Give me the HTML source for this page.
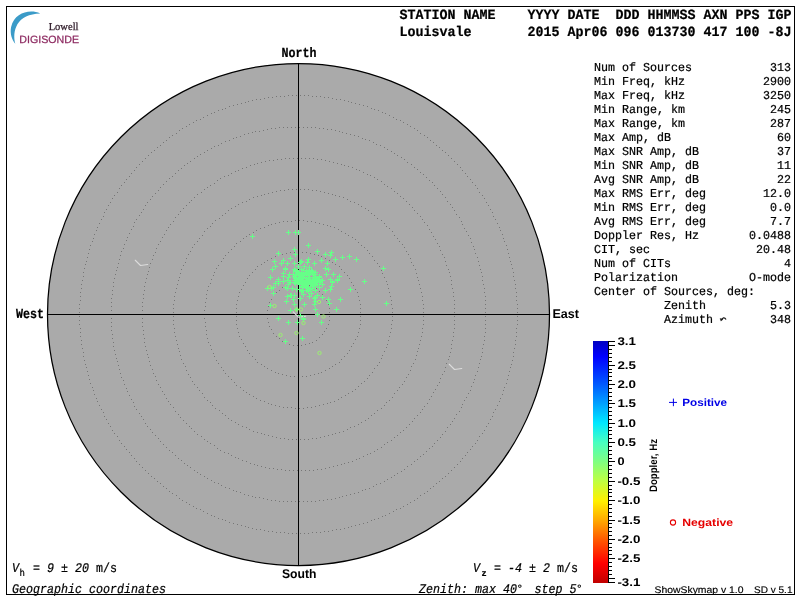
<!DOCTYPE html>
<html><head><meta charset="utf-8"><title>Skymap</title>
<style>
html,body{margin:0;padding:0;background:#fff;}
body{width:800px;height:600px;overflow:hidden;font-family:"Liberation Sans",sans-serif;}
svg{display:block;will-change:transform;}
text{white-space:pre;text-rendering:geometricPrecision;}
.m{font-family:"Liberation Mono",monospace;stroke:#000;stroke-width:0.22px;}
.s{font-family:"Liberation Sans",sans-serif;}
.r{font-family:"Liberation Serif",serif;}
</style></head><body>
<svg width="800" height="600" viewBox="0 0 800 600">
<rect x="0" y="0" width="800" height="600" fill="#ffffff"/>
<circle cx="298.5" cy="314.5" r="251" fill="#aaaaaa" stroke="#000" stroke-width="1.25"/>
<path d="M329,312.5h1m-1,-4h1m-2,-4h1m-3,-4h1m-3,-3h1m-3,-3h1m-4,-3h1m-4,-3h1m-5,-2h1m-4,-1h1m-5,-1h1m-5,-1h1m-5,0h1m-5,0h1m-5,1h1m-5,1h1m-4,2h1m-4,3h1m-4,2h1m-4,3h1m-3,4h1m-3,3h1m-2,4h1m-2,4h1m-1,4h1m-1,4h1m0,4h1m0,4h1m1,3h1m1,4h1m2,3h1m2,2h1m2,3h1m2,2h1m3,1h1m3,1h1m3,0h1m3,0h1m3,-1h1m3,-1h1m2,-1h1m3,-2h1m2,-3h1m2,-3h1m1,-3h1m1,-3h1m1,-4h1m0,-4h1m-1,-4h1m30,-4h1m-1,-4h1m-1,-4h1m-2,-4h1m-2,-4h1m-2,-4h1m-3,-3h1m-3,-4h1m-3,-3h1m-3,-4h1m-3,-3h1m-4,-3h1m-4,-3h1m-3,-3h1m-5,-2h1m-4,-2h1m-4,-2h1m-5,-2h1m-5,-2h1m-4,-1h1m-5,-1h1m-5,-1h1m-5,-1h1m-5,0h1m-5,0h1m-5,0h1m-5,0h1m-5,1h1m-5,1h1m-5,1h1m-4,1h1m-5,2h1m-5,2h1m-4,2h1m-4,2h1m-5,2h1m-3,3h1m-4,3h1m-4,3h1m-3,3h1m-3,4h1m-3,3h1m-3,4h1m-3,3h1m-2,4h1m-2,4h1m-2,4h1m-1,4h1m-1,4h1m-1,4h1m-1,4h1m-1,4h1m0,4h1m0,4h1m0,4h1m1,3h1m1,4h1m1,3h1m1,4h1m1,3h1m2,3h1m2,3h1m1,3h1m3,2h1m2,2h1m2,2h1m3,2h1m3,2h1m2,1h1m3,1h1m3,1h1m3,1h1m3,0h1m3,1h1m3,-1h1m3,0h1m3,-1h1m3,-1h1m3,-1h1m2,-1h1m3,-2h1m3,-2h1m2,-2h1m2,-2h1m3,-2h1m1,-3h1m2,-3h1m2,-3h1m1,-3h1m1,-4h1m1,-3h1m1,-4h1m1,-3h1m0,-4h1m0,-4h1m0,-4h1m-1,-4h1m-1,-4h1m31,-4h1m-1,-4h1m-2,-4h1m-1,-4h1m-2,-4h1m-2,-4h1m-2,-4h1m-2,-4h1m-2,-3h1m-3,-4h1m-3,-4h1m-2,-3h1m-3,-4h1m-3,-3h1m-4,-3h1m-3,-4h1m-4,-3h1m-3,-3h1m-4,-3h1m-4,-2h1m-4,-3h1m-4,-3h1m-4,-2h1m-5,-2h1m-4,-2h1m-5,-2h1m-4,-2h1m-5,-2h1m-5,-1h1m-4,-1h1m-5,-1h1m-5,-1h1m-5,-1h1m-5,-1h1m-5,0h1m-5,-1h1m-5,0h1m-5,0h1m-5,1h1m-5,0h1m-5,0h1m-5,1h1m-5,1h1m-5,1h1m-4,1h1m-5,2h1m-5,1h1m-5,2h1m-4,2h1m-5,2h1m-4,2h1m-4,2h1m-4,3h1m-5,2h1m-3,3h1m-4,3h1m-4,3h1m-4,3h1m-3,3h1m-3,3h1m-4,4h1m-3,3h1m-3,4h1m-2,3h1m-3,4h1m-2,4h1m-3,3h1m-2,4h1m-2,4h1m-1,4h1m-2,4h1m-1,4h1m-2,4h1m-1,4h1m-1,4h1m0,4h1m-1,4h1m0,4h1m-1,4h1m0,4h1m0,4h1m1,3h1m0,4h1m1,4h1m0,3h1m1,4h1m1,3h1m2,4h1m1,3h1m1,3h1m2,3h1m2,3h1m2,3h1m1,3h1m3,2h1m2,3h1m2,2h1m2,2h1m3,2h1m2,2h1m3,2h1m3,1h1m3,2h1m2,1h1m3,1h1m3,1h1m3,1h1m3,0h1m3,0h1m3,1h1m3,0h1m3,0h1m3,-1h1m3,0h1m3,-1h1m3,-1h1m3,-1h1m3,-1h1m2,-1h1m3,-1h1m3,-2h1m2,-2h1m3,-2h1m2,-2h1m3,-2h1m2,-2h1m2,-3h1m2,-3h1m2,-2h1m2,-3h1m1,-3h1m2,-3h1m1,-4h1m2,-3h1m1,-3h1m1,-4h1m0,-3h1m1,-4h1m1,-4h1m0,-3h1m0,-4h1m0,-4h1m0,-4h1m0,-4h1m-1,-4h1m0,-4h1m-1,-4h1m30,-4h1m-1,-4h1m-1,-4h1m-2,-4h1m-1,-4h1m-2,-4h1m-2,-4h1m-2,-4h1m-2,-4h1m-2,-3h1m-2,-4h1m-2,-4h1m-3,-4h1m-3,-3h1m-2,-4h1m-3,-4h1m-3,-3h1m-3,-4h1m-3,-3h1m-4,-3h1m-3,-3h1m-4,-3h1m-3,-4h1m-4,-3h1m-4,-2h1m-3,-3h1m-4,-3h1m-5,-2h1m-4,-3h1m-4,-2h1m-4,-3h1m-4,-2h1m-5,-2h1m-4,-2h1m-5,-2h1m-5,-1h1m-4,-2h1m-5,-2h1m-5,-1h1m-5,-1h1m-4,-1h1m-5,-1h1m-5,-1h1m-5,-1h1m-5,-1h1m-5,0h1m-5,-1h1m-5,0h1m-5,0h1m-5,0h1m-5,0h1m-5,0h1m-5,1h1m-5,0h1m-5,1h1m-5,1h1m-5,1h1m-5,1h1m-4,1h1m-5,1h1m-5,1h1m-5,2h1m-4,2h1m-5,1h1m-5,2h1m-4,2h1m-5,2h1m-4,2h1m-4,3h1m-4,2h1m-4,3h1m-5,2h1m-4,3h1m-3,3h1m-4,2h1m-4,3h1m-3,4h1m-4,3h1m-3,3h1m-4,3h1m-3,3h1m-3,4h1m-3,3h1m-3,4h1m-2,4h1m-3,3h1m-3,4h1m-2,4h1m-2,4h1m-2,3h1m-2,4h1m-2,4h1m-2,4h1m-2,4h1m-1,4h1m-2,4h1m-1,4h1m-1,4h1m-1,4h1m-1,4h1m-1,4h1m0,4h1m-1,4h1m0,4h1m0,4h1m0,4h1m0,4h1m0,3h1m0,4h1m0,4h1m1,4h1m1,3h1m0,4h1m1,4h1m1,3h1m1,4h1m1,3h1m2,3h1m1,3h1m2,3h1m1,4h1m2,3h1m2,2h1m1,3h1m2,3h1m3,2h1m2,3h1m2,2h1m2,3h1m2,2h1m3,2h1m2,2h1m3,2h1m3,1h1m2,2h1m3,2h1m3,1h1m3,1h1m2,1h1m3,1h1m3,1h1m3,1h1m3,1h1m3,0h1m3,1h1m3,0h1m3,0h1m3,0h1m3,0h1m3,0h1m3,-1h1m3,0h1m3,-1h1m3,-1h1m3,-1h1m3,-1h1m2,-1h1m3,-1h1m3,-1h1m3,-2h1m2,-2h1m3,-1h1m3,-2h1m2,-2h1m3,-2h1m2,-2h1m2,-3h1m2,-2h1m2,-3h1m3,-2h1m2,-3h1m1,-3h1m2,-2h1m2,-3h1m1,-4h1m2,-3h1m1,-3h1m2,-3h1m1,-3h1m1,-4h1m1,-3h1m1,-4h1m0,-4h1m1,-3h1m1,-4h1m0,-4h1m0,-4h1m0,-3h1m0,-4h1m0,-4h1m0,-4h1m0,-4h1m-1,-4h1m0,-4h1m-1,-4h1m-1,-4h1m30,-4h1m-1,-4h1m-1,-4h1m-1,-4h1m-2,-4h1m-1,-4h1m-2,-4h1m-2,-4h1m-1,-4h1m-2,-4h1m-2,-4h1m-2,-3h1m-3,-4h1m-2,-4h1m-2,-4h1m-3,-3h1m-3,-4h1m-2,-4h1m-3,-3h1m-3,-4h1m-3,-3h1m-3,-4h1m-3,-3h1m-3,-4h1m-4,-3h1m-3,-3h1m-3,-3h1m-4,-3h1m-4,-3h1m-3,-3h1m-4,-3h1m-4,-3h1m-4,-3h1m-4,-2h1m-4,-3h1m-4,-2h1m-4,-3h1m-5,-2h1m-4,-2h1m-4,-3h1m-5,-2h1m-4,-2h1m-5,-2h1m-4,-1h1m-5,-2h1m-5,-2h1m-4,-1h1m-5,-2h1m-5,-1h1m-5,-1h1m-4,-1h1m-5,-1h1m-5,-1h1m-5,-1h1m-5,-1h1m-5,-1h1m-5,0h1m-5,-1h1m-5,0h1m-5,0h1m-5,0h1m-5,0h1m-5,0h1m-5,0h1m-5,0h1m-5,1h1m-5,0h1m-5,1h1m-5,0h1m-5,1h1m-5,1h1m-5,1h1m-4,1h1m-5,1h1m-5,2h1m-5,1h1m-5,2h1m-4,1h1m-5,2h1m-4,2h1m-5,1h1m-5,2h1m-4,2h1m-4,3h1m-5,2h1m-4,2h1m-4,2h1m-4,3h1m-5,2h1m-4,3h1m-4,3h1m-3,2h1m-4,3h1m-4,3h1m-4,3h1m-3,3h1m-4,3h1m-3,4h1m-4,3h1m-3,3h1m-3,3h1m-3,4h1m-3,3h1m-3,4h1m-3,3h1m-3,4h1m-2,4h1m-3,3h1m-2,4h1m-3,4h1m-2,4h1m-2,4h1m-2,3h1m-2,4h1m-2,4h1m-2,4h1m-1,4h1m-2,4h1m-1,4h1m-2,4h1m-1,4h1m-1,4h1m-1,4h1m-1,4h1m-1,4h1m-1,4h1m0,4h1m-1,4h1m0,4h1m-1,4h1m0,4h1m0,4h1m0,4h1m0,3h1m0,4h1m0,4h1m1,4h1m0,4h1m1,3h1m0,4h1m1,4h1m1,3h1m1,4h1m1,3h1m1,4h1m1,3h1m1,3h1m2,3h1m1,4h1m2,3h1m1,3h1m2,3h1m2,3h1m2,3h1m1,2h1m2,3h1m2,3h1m3,2h1m2,3h1m2,2h1m2,2h1m3,2h1m2,3h1m2,2h1m3,2h1m3,1h1m2,2h1m3,2h1m2,1h1m3,2h1m3,1h1m3,2h1m3,1h1m2,1h1m3,1h1m3,1h1m3,1h1m3,0h1m3,1h1m3,0h1m3,1h1m3,0h1m3,0h1m3,0h1m3,0h1m3,0h1m3,0h1m3,0h1m3,-1h1m3,0h1m3,-1h1m3,-1h1m3,-1h1m3,-1h1m3,-1h1m2,-1h1m3,-1h1m3,-1h1m3,-2h1m2,-1h1m3,-2h1m3,-2h1m2,-1h1m3,-2h1m2,-2h1m3,-2h1m2,-3h1m2,-2h1m3,-2h1m2,-3h1m2,-2h1m2,-3h1m2,-2h1m2,-3h1m2,-3h1m2,-3h1m1,-3h1m2,-3h1m2,-3h1m1,-3h1m1,-3h1m2,-3h1m1,-4h1m1,-3h1m1,-4h1m1,-3h1m1,-4h1m1,-3h1m0,-4h1m1,-4h1m1,-3h1m0,-4h1m0,-4h1m1,-4h1m0,-3h1m0,-4h1m0,-4h1m-1,-4h1m0,-4h1m0,-4h1m-1,-4h1m0,-4h1m-1,-4h1m-1,-4h1m-1,-4h1m30,-4h1m-1,-4h1m-1,-4h1m-1,-4h1m-1,-4h1m-2,-4h1m-1,-4h1m-2,-4h1m-2,-4h1m-1,-4h1m-2,-4h1m-2,-3h1m-2,-4h1m-2,-4h1m-2,-4h1m-3,-4h1m-2,-4h1m-2,-3h1m-3,-4h1m-2,-4h1m-3,-3h1m-3,-4h1m-3,-3h1m-3,-4h1m-2,-3h1m-3,-4h1m-4,-3h1m-3,-4h1m-3,-3h1m-3,-3h1m-4,-3h1m-3,-4h1m-4,-3h1m-3,-3h1m-4,-3h1m-4,-3h1m-3,-3h1m-4,-2h1m-4,-3h1m-4,-3h1m-4,-2h1m-4,-3h1m-4,-2h1m-4,-3h1m-5,-2h1m-4,-3h1m-4,-2h1m-5,-2h1m-4,-2h1m-4,-2h1m-5,-2h1m-4,-2h1m-5,-2h1m-5,-1h1m-4,-2h1m-5,-2h1m-5,-1h1m-4,-1h1m-5,-2h1m-5,-1h1m-5,-1h1m-5,-1h1m-5,-1h1m-4,-1h1m-5,-1h1m-5,-1h1m-5,0h1m-5,-1h1m-5,0h1m-5,-1h1m-5,0h1m-5,0h1m-5,0h1m-5,0h1m-5,0h1m-5,0h1m-5,0h1m-5,0h1m-5,0h1m-5,1h1m-5,0h1m-5,1h1m-5,1h1m-5,1h1m-5,0h1m-4,1h1m-5,1h1m-5,1h1m-5,2h1m-5,1h1m-4,1h1m-5,2h1m-5,1h1m-5,2h1m-4,2h1m-5,1h1m-4,2h1m-5,2h1m-4,2h1m-5,2h1m-4,2h1m-4,2h1m-5,3h1m-4,2h1m-4,2h1m-4,3h1m-4,2h1m-4,3h1m-4,3h1m-4,2h1m-4,3h1m-4,3h1m-4,3h1m-3,3h1m-4,3h1m-4,3h1m-3,3h1m-4,3h1m-3,3h1m-3,4h1m-3,3h1m-3,3h1m-4,4h1m-3,3h1m-2,4h1m-3,3h1m-3,4h1m-3,4h1m-2,3h1m-3,4h1m-2,4h1m-3,3h1m-2,4h1m-2,4h1m-2,4h1m-2,4h1m-2,3h1m-2,4h1m-2,4h1m-2,4h1m-1,4h1m-2,4h1m-1,4h1m-2,4h1m-1,4h1m-1,4h1m-1,4h1m-1,4h1m-1,4h1m-1,4h1m-1,4h1m-1,4h1m0,4h1m-1,4h1m0,4h1m-1,4h1m0,4h1m0,4h1m0,4h1m0,3h1m0,4h1m0,4h1m0,4h1m0,4h1m1,3h1m0,4h1m1,4h1m0,3h1m1,4h1m1,4h1m1,3h1m0,4h1m1,3h1m2,4h1m1,3h1m1,3h1m1,4h1m1,3h1m2,3h1m1,3h1m2,3h1m2,3h1m1,3h1m2,3h1m2,3h1m2,3h1m2,2h1m2,3h1m2,3h1m2,2h1m2,3h1m2,2h1m2,2h1m3,3h1m2,2h1m2,2h1m3,2h1m2,2h1m3,2h1m2,2h1m3,1h1m2,2h1m3,2h1m3,1h1m3,2h1m2,1h1m3,1h1m3,2h1m3,1h1m3,1h1m2,1h1m3,0h1m3,1h1m3,1h1m3,1h1m3,0h1m3,1h1m3,0h1m3,0h1m3,0h1m3,0h1m3,0h1m3,0h1m3,0h1m3,0h1m3,0h1m3,-1h1m3,0h1m3,-1h1m3,0h1m3,-1h1m3,-1h1m2,-1h1m3,-1h1m3,-1h1m3,-1h1m3,-1h1m3,-2h1m2,-1h1m3,-1h1m3,-2h1m2,-2h1m3,-1h1m3,-2h1m2,-2h1m3,-2h1m2,-2h1m2,-2h1m3,-2h1m2,-2h1m2,-3h1m3,-2h1m2,-3h1m2,-2h1m2,-3h1m2,-2h1m2,-3h1m2,-3h1m2,-2h1m1,-3h1m2,-3h1m2,-3h1m1,-3h1m2,-3h1m1,-4h1m2,-3h1m1,-3h1m1,-3h1m1,-4h1m2,-3h1m1,-4h1m0,-3h1m1,-4h1m1,-3h1m1,-4h1m1,-3h1m0,-4h1m1,-4h1m0,-3h1m0,-4h1m1,-4h1m0,-4h1m0,-4h1m0,-4h1m0,-3h1m0,-4h1m-1,-4h1m0,-4h1m0,-4h1m-1,-4h1m0,-4h1m-1,-4h1m-1,-4h1m-1,-4h1m-1,-4h1m31,-4h1m-1,-4h1m-1,-4h1m-2,-4h1m-1,-4h1m-1,-4h1m-2,-4h1m-1,-4h1m-2,-4h1m-2,-4h1m-1,-4h1m-2,-4h1m-2,-4h1m-2,-3h1m-2,-4h1m-2,-4h1m-2,-4h1m-2,-4h1m-3,-4h1m-2,-3h1m-2,-4h1m-3,-4h1m-2,-3h1m-3,-4h1m-3,-4h1m-3,-3h1m-2,-4h1m-3,-3h1m-3,-4h1m-3,-3h1m-3,-4h1m-3,-3h1m-4,-3h1m-3,-4h1m-3,-3h1m-4,-3h1m-3,-3h1m-4,-3h1m-3,-3h1m-4,-3h1m-3,-3h1m-4,-3h1m-4,-3h1m-4,-3h1m-4,-3h1m-4,-3h1m-4,-2h1m-4,-3h1m-4,-2h1m-4,-3h1m-4,-2h1m-4,-3h1m-4,-2h1m-5,-2h1m-4,-3h1m-4,-2h1m-5,-2h1m-4,-2h1m-5,-2h1m-4,-2h1m-5,-1h1m-4,-2h1m-5,-2h1m-5,-2h1m-4,-1h1m-5,-2h1m-5,-1h1m-4,-1h1m-5,-2h1m-5,-1h1m-5,-1h1m-5,-1h1m-5,-1h1m-4,-1h1m-5,-1h1m-5,-1h1m-5,0h1m-5,-1h1m-5,-1h1m-5,0h1m-5,-1h1m-5,0h1m-5,0h1m-5,-1h1m-5,0h1m-5,0h1m-5,0h1m-5,0h1m-5,0h1m-5,1h1m-5,0h1m-5,0h1m-5,1h1m-5,0h1m-5,1h1m-5,1h1m-5,0h1m-5,1h1m-5,1h1m-4,1h1m-5,1h1m-5,1h1m-5,1h1m-5,1h1m-5,2h1m-4,1h1m-5,1h1m-5,2h1m-4,1h1m-5,2h1m-5,2h1m-4,2h1m-5,1h1m-4,2h1m-5,2h1m-4,2h1m-5,2h1m-4,2h1m-4,3h1m-5,2h1m-4,2h1m-4,3h1m-4,2h1m-4,3h1m-4,2h1m-4,3h1m-4,2h1m-4,3h1m-4,3h1m-4,3h1m-4,3h1m-4,3h1m-3,3h1m-4,3h1m-3,3h1m-4,3h1m-3,3h1m-4,3h1m-3,3h1m-3,4h1m-4,3h1m-3,3h1m-3,4h1m-3,3h1m-3,4h1m-3,3h1m-2,4h1m-3,3h1m-3,4h1m-3,4h1m-2,3h1m-3,4h1m-2,4h1m-2,3h1m-3,4h1m-2,4h1m-2,4h1m-2,4h1m-2,4h1m-2,3h1m-2,4h1m-2,4h1m-1,4h1m-2,4h1m-2,4h1m-1,4h1m-2,4h1m-1,4h1m-1,4h1m-2,4h1m-1,4h1m-1,4h1m-1,4h1m-1,4h1m-1,4h1m0,4h1m-1,4h1m-1,4h1m0,4h1m-1,4h1m0,4h1m0,4h1m-1,4h1m0,4h1m0,4h1m0,3h1m0,4h1m0,4h1m0,4h1m0,4h1m1,4h1m0,3h1m0,4h1m1,4h1m0,3h1m1,4h1m1,4h1m1,3h1m0,4h1m1,3h1m1,4h1m1,3h1m1,4h1m1,3h1m2,3h1m1,4h1m1,3h1m2,3h1m1,3h1m2,3h1m1,3h1m2,3h1m1,3h1m2,3h1m2,3h1m2,3h1m2,3h1m2,3h1m2,2h1m2,3h1m2,2h1m2,3h1m2,2h1m2,3h1m2,2h1m3,2h1m2,3h1m2,2h1m3,2h1m2,2h1m3,2h1m2,2h1m3,1h1m2,2h1m3,2h1m3,2h1m2,1h1m3,2h1m3,1h1m2,1h1m3,2h1m3,1h1m3,1h1m3,1h1m3,1h1m2,1h1m3,1h1m3,1h1m3,0h1m3,1h1m3,1h1m3,0h1m3,1h1m3,0h1m3,0h1m3,1h1m3,0h1m3,0h1m3,0h1m3,0h1m3,0h1m3,-1h1m3,0h1m3,0h1m3,-1h1m3,0h1m3,-1h1m3,-1h1m3,0h1m3,-1h1m3,-1h1m2,-1h1m3,-1h1m3,-1h1m3,-1h1m3,-1h1m3,-2h1m2,-1h1m3,-1h1m3,-2h1m2,-1h1m3,-2h1m3,-2h1m2,-2h1m3,-1h1m2,-2h1m3,-2h1m2,-2h1m3,-2h1m2,-2h1m2,-3h1m3,-2h1m2,-2h1m2,-3h1m2,-2h1m2,-3h1m2,-2h1m2,-3h1m2,-2h1m2,-3h1m2,-3h1m2,-3h1m2,-3h1m2,-3h1m1,-3h1m2,-3h1m1,-3h1m2,-3h1m1,-3h1m2,-3h1m1,-3h1m1,-4h1m2,-3h1m1,-3h1m1,-4h1m1,-3h1m1,-4h1m1,-3h1m0,-4h1m1,-3h1m1,-4h1m1,-4h1m0,-3h1m1,-4h1m0,-4h1m0,-3h1m1,-4h1m0,-4h1m0,-4h1m0,-4h1m0,-4h1m0,-3h1m0,-4h1m0,-4h1m-1,-4h1m0,-4h1m0,-4h1m-1,-4h1m0,-4h1m-1,-4h1m-1,-4h1m0,-4h1m-1,-4h1m-1,-4h1" stroke="#767676" stroke-width="1" fill="none" shape-rendering="crispEdges"/>
<g shape-rendering="crispEdges" stroke="#000" stroke-width="1">
<line x1="298.5" y1="63" x2="298.5" y2="566"/>
<line x1="47" y1="314.5" x2="550" y2="314.5"/>
</g>
<polyline points="135.25,260.25 140.50,265.50 147.75,264.50" fill="none" stroke="#dcdcdc" stroke-width="1.1" stroke-linecap="round" stroke-linejoin="round"/>
<polyline points="449.25,364.25 454.50,369.50 461.75,368.50" fill="none" stroke="#dcdcdc" stroke-width="1.1" stroke-linecap="round" stroke-linejoin="round"/>
<polyline points="293.15,311.95 298.40,317.20 305.65,316.20" fill="none" stroke="#dcdcdc" stroke-width="1.1" stroke-linecap="round" stroke-linejoin="round"/>
<path d="M250,236.5h5M252.5,234v5M286,232.5h5M288.5,230v5M293,232.5h5M295.5,230v5M296,232.5h5M298.5,230v5M306,245.5h5M308.5,243v5M292,249.5h5M294.5,247v5M276,253.5h5M278.5,251v5M293,254.5h5M295.5,252v5M315,251.5h5M317.5,249v5M288,258.5h5M290.5,256v5M272,261.5h5M274.5,259v5M281,260.5h5M283.5,258v5M279,263.5h5M281.5,261v5M285,263.5h5M287.5,261v5M292,263.5h5M294.5,261v5M298,262.5h5M300.5,260v5M306,259.5h5M308.5,257v5M305,262.5h5M307.5,260v5M312,263.5h5M314.5,261v5M273,266.5h5M275.5,264v5M270,269.5h5M272.5,267v5M283,268.5h5M285.5,266v5M302,266.5h5M304.5,264v5M268,277.5h5M270.5,275v5M276,279.5h5M278.5,277v5M292,269.5h5M294.5,267v5M296,266.5h5M298.5,264v5M299,261.5h5M301.5,259v5M304,270.5h5M306.5,268v5M281,273.5h5M283.5,271v5M281,276.5h5M283.5,274v5M287,274.5h5M289.5,272v5M273,283.5h5M275.5,281v5M281,281.5h5M283.5,279v5M286,277.5h5M288.5,275v5M288,282.5h5M290.5,280v5M293,277.5h5M295.5,275v5M294,281.5h5M296.5,279v5M329,252.5h5M331.5,250v5M323,254.5h5M325.5,252v5M328,255.5h5M330.5,253v5M333,259.5h5M335.5,257v5M340,257.5h5M342.5,255v5M347,256.5h5M349.5,254v5M354,259.5h5M356.5,257v5M381,268.5h5M383.5,266v5M319,260.5h5M321.5,258v5M325,263.5h5M327.5,261v5M323,268.5h5M325.5,266v5M326,269.5h5M328.5,267v5M324,274.5h5M326.5,272v5M331,274.5h5M333.5,272v5M337,276.5h5M339.5,274v5M335,279.5h5M337.5,277v5M328,279.5h5M330.5,277v5M330,282.5h5M332.5,280v5M362,281.5h5M364.5,279v5M265,288.5h5M267.5,286v5M271,293.5h5M273.5,291v5M268,305.5h5M270.5,303v5M276,318.5h5M278.5,316v5M286,322.5h5M288.5,320v5M295,322.5h5M297.5,320v5M301,318.5h5M303.5,316v5M298,315.5h5M300.5,313v5M288,310.5h5M290.5,308v5M284,301.5h5M286.5,299v5M292,304.5h5M294.5,302v5M302,304.5h5M304.5,302v5M285,296.5h5M287.5,294v5M289,295.5h5M291.5,293v5M292,295.5h5M294.5,293v5M291,299.5h5M293.5,297v5M298,298.5h5M300.5,296v5M301,294.5h5M303.5,292v5M307,296.5h5M309.5,294v5M309,293.5h5M311.5,291v5M312,298.5h5M314.5,296v5M315,295.5h5M317.5,293v5M313,309.5h5M315.5,307v5M312,304.5h5M314.5,302v5M315,314.5h5M317.5,312v5M300,338.5h5M302.5,336v5M276,283.5h5M278.5,281v5M276,281.5h5M278.5,279v5M271,287.5h5M273.5,285v5M283,287.5h5M285.5,285v5M286,284.5h5M288.5,282v5M269,288.5h5M271.5,286v5M285,288.5h5M287.5,286v5M290,288.5h5M292.5,286v5M288,295.5h5M290.5,293v5M285,280.5h5M287.5,278v5M287,282.5h5M289.5,280v5M283,269.5h5M285.5,267v5M348,289.5h5M350.5,287v5M384,303.5h5M386.5,301v5M338,299.5h5M340.5,297v5M334,309.5h5M336.5,307v5M326,299.5h5M328.5,297v5M327,303.5h5M329.5,301v5M320,297.5h5M322.5,295v5M323,290.5h5M325.5,288v5M328,289.5h5M330.5,287v5M329,286.5h5M331.5,284v5M330,281.5h5M332.5,279v5M319,322.5h5M321.5,320v5M335,280.5h5M337.5,278v5M283,341.5h5M285.5,339v5M301,319.5h5M303.5,317v5M313,301.5h5M315.5,299v5M313,297.5h5M315.5,295v5M323,290.5h5M325.5,288v5M294,309.5h5M296.5,307v5M293,270.5h5M295.5,268v5M293,278.5h5M295.5,276v5M292,280.5h5M294.5,278v5M300,276.5h5M302.5,274v5M310,282.5h5M312.5,280v5M311,279.5h5M313.5,277v5M307,280.5h5M309.5,278v5M302,282.5h5M304.5,280v5M299,280.5h5M301.5,278v5M308,281.5h5M310.5,279v5M305,279.5h5M307.5,277v5M306,279.5h5M308.5,277v5M303,280.5h5M305.5,278v5M314,281.5h5M316.5,279v5M306,284.5h5M308.5,282v5M314,280.5h5M316.5,278v5M298,279.5h5M300.5,277v5M308,279.5h5M310.5,277v5M303,283.5h5M305.5,281v5M306,282.5h5M308.5,280v5M303,286.5h5M305.5,284v5M312,281.5h5M314.5,279v5M303,284.5h5M305.5,282v5M307,277.5h5M309.5,275v5M303,285.5h5M305.5,283v5M305,280.5h5M307.5,278v5M306,281.5h5M308.5,279v5M305,273.5h5M307.5,271v5M313,282.5h5M315.5,280v5M301,285.5h5M303.5,283v5M306,281.5h5M308.5,279v5M308,288.5h5M310.5,286v5M303,284.5h5M305.5,282v5M297,280.5h5M299.5,278v5M311,285.5h5M313.5,283v5M308,273.5h5M310.5,271v5M309,283.5h5M311.5,281v5M301,280.5h5M303.5,278v5M304,283.5h5M306.5,281v5M307,282.5h5M309.5,280v5M306,282.5h5M308.5,280v5M311,281.5h5M313.5,279v5M302,283.5h5M304.5,281v5M298,277.5h5M300.5,275v5M300,282.5h5M302.5,280v5M310,282.5h5M312.5,280v5M306,279.5h5M308.5,277v5M299,276.5h5M301.5,274v5M309,284.5h5M311.5,282v5M310,288.5h5M312.5,286v5M304,285.5h5M306.5,283v5M314,281.5h5M316.5,279v5M310,280.5h5M312.5,278v5M298,282.5h5M300.5,280v5M301,281.5h5M303.5,279v5M303,282.5h5M305.5,280v5M311,280.5h5M313.5,278v5M301,281.5h5M303.5,279v5M308,283.5h5M310.5,281v5M307,273.5h5M309.5,271v5M300,287.5h5M302.5,285v5M306,275.5h5M308.5,273v5M301,275.5h5M303.5,273v5M300,286.5h5M302.5,284v5M304,286.5h5M306.5,284v5M306,275.5h5M308.5,273v5M301,277.5h5M303.5,275v5M311,281.5h5M313.5,279v5M305,287.5h5M307.5,285v5M297,283.5h5M299.5,281v5M300,275.5h5M302.5,273v5M301,286.5h5M303.5,284v5M304,273.5h5M306.5,271v5M294,289.5h5M296.5,287v5M313,272.5h5M315.5,270v5M293,278.5h5M295.5,276v5M313,290.5h5M315.5,288v5M313,276.5h5M315.5,274v5M299,269.5h5M301.5,267v5M306,271.5h5M308.5,269v5M299,273.5h5M301.5,271v5M293,271.5h5M295.5,269v5M295,271.5h5M297.5,269v5M292,282.5h5M294.5,280v5M307,289.5h5M309.5,287v5M295,280.5h5M297.5,278v5M295,273.5h5M297.5,271v5M313,279.5h5M315.5,277v5M317,287.5h5M319.5,285v5M296,277.5h5M298.5,275v5M308,273.5h5M310.5,271v5M309,270.5h5M311.5,268v5M294,274.5h5M296.5,272v5M298,275.5h5M300.5,273v5M313,284.5h5M315.5,282v5M297,284.5h5M299.5,282v5M313,278.5h5M315.5,276v5M298,276.5h5M300.5,274v5M314,278.5h5M316.5,276v5M314,278.5h5M316.5,276v5M313,285.5h5M315.5,283v5M297,281.5h5M299.5,279v5M307,267.5h5M309.5,265v5M315,280.5h5M317.5,278v5M296,274.5h5M298.5,272v5M296,272.5h5M298.5,270v5M304,274.5h5M306.5,272v5M296,278.5h5M298.5,276v5M296,280.5h5M298.5,278v5M304,270.5h5M306.5,268v5M313,274.5h5M315.5,272v5M320,280.5h5M322.5,278v5M293,283.5h5M295.5,281v5M301,270.5h5M303.5,268v5M297,283.5h5M299.5,281v5M299,291.5h5M301.5,289v5M320,284.5h5M322.5,282v5M301,272.5h5M303.5,270v5M300,290.5h5M302.5,288v5M293,280.5h5M295.5,278v5M296,279.5h5M298.5,277v5M306,291.5h5M308.5,289v5M307,270.5h5M309.5,268v5M318,281.5h5M320.5,279v5M311,286.5h5M313.5,284v5M291,274.5h5M293.5,272v5M297,281.5h5M299.5,279v5M296,275.5h5M298.5,273v5M312,277.5h5M314.5,275v5M317,282.5h5M319.5,280v5M311,286.5h5M313.5,284v5M292,276.5h5M294.5,274v5M304,290.5h5M306.5,288v5M301,270.5h5M303.5,268v5M315,284.5h5M317.5,282v5M298,276.5h5M300.5,274v5M311,274.5h5M313.5,272v5M297,289.5h5M299.5,287v5M318,281.5h5M320.5,279v5M317,276.5h5M319.5,274v5M317,277.5h5M319.5,275v5M298,275.5h5M300.5,273v5M298,275.5h5M300.5,273v5M310,271.5h5M312.5,269v5M307,272.5h5M309.5,270v5M310,273.5h5M312.5,271v5M294,274.5h5M296.5,272v5M303,272.5h5M305.5,270v5M301,277.5h5M303.5,275v5M299,278.5h5M301.5,276v5M304,278.5h5M306.5,276v5M299,279.5h5M301.5,277v5M313,278.5h5M315.5,276v5M298,279.5h5M300.5,277v5M313,278.5h5M315.5,276v5M317,279.5h5M319.5,277v5" stroke="#66ff88" stroke-width="1" fill="none" shape-rendering="crispEdges"/>
<circle cx="269.5" cy="287" r="1.7" fill="none" stroke="#98f56c" stroke-width="0.9"/><circle cx="274.5" cy="306" r="1.7" fill="none" stroke="#98f56c" stroke-width="0.9"/><circle cx="301" cy="309.5" r="1.7" fill="none" stroke="#98f56c" stroke-width="0.9"/><circle cx="296.5" cy="309.5" r="1.7" fill="none" stroke="#98f56c" stroke-width="0.9"/><circle cx="319" cy="302" r="1.7" fill="none" stroke="#98f56c" stroke-width="0.9"/><circle cx="303.5" cy="323" r="1.7" fill="none" stroke="#98f56c" stroke-width="0.9"/><circle cx="296.5" cy="333" r="1.7" fill="none" stroke="#98f56c" stroke-width="0.9"/><circle cx="280.5" cy="335" r="1.7" fill="none" stroke="#98f56c" stroke-width="0.9"/><circle cx="323.5" cy="316.5" r="1.7" fill="none" stroke="#98f56c" stroke-width="0.9"/><circle cx="319.5" cy="353" r="1.7" fill="none" stroke="#98f56c" stroke-width="0.9"/>
<rect x="6.5" y="6.5" width="788" height="588" fill="none" stroke="#000" stroke-width="1" shape-rendering="crispEdges"/>
<text x="399.5" y="19.1" class="m" font-size="14.1" font-weight="bold" textLength="96" lengthAdjust="spacingAndGlyphs">STATION NAME</text>
<text x="527.5" y="19.1" class="m" font-size="14.1" font-weight="bold" textLength="72" lengthAdjust="spacingAndGlyphs">YYYY DATE</text>
<text x="615.5" y="19.1" class="m" font-size="14.1" font-weight="bold" textLength="176" lengthAdjust="spacingAndGlyphs">DDD HHMMSS AXN PPS IGP</text>
<text x="399.5" y="35.7" class="m" font-size="14.1" font-weight="bold" textLength="72" lengthAdjust="spacingAndGlyphs">Louisvale</text>
<text x="527.5" y="35.7" class="m" font-size="14.1" font-weight="bold" textLength="264" lengthAdjust="spacingAndGlyphs">2015 Apr06 096 013730 417 100 -8J</text>
<text x="594" y="71" class="m" font-size="12.1" textLength="98" lengthAdjust="spacingAndGlyphs">Num of Sources</text>
<text x="770" y="71" class="m" font-size="12.1" textLength="21" lengthAdjust="spacingAndGlyphs">313</text>
<text x="594" y="85" class="m" font-size="12.1" textLength="91" lengthAdjust="spacingAndGlyphs">Min Freq, kHz</text>
<text x="763" y="85" class="m" font-size="12.1" textLength="28" lengthAdjust="spacingAndGlyphs">2900</text>
<text x="594" y="99" class="m" font-size="12.1" textLength="91" lengthAdjust="spacingAndGlyphs">Max Freq, kHz</text>
<text x="763" y="99" class="m" font-size="12.1" textLength="28" lengthAdjust="spacingAndGlyphs">3250</text>
<text x="594" y="113" class="m" font-size="12.1" textLength="91" lengthAdjust="spacingAndGlyphs">Min Range, km</text>
<text x="770" y="113" class="m" font-size="12.1" textLength="21" lengthAdjust="spacingAndGlyphs">245</text>
<text x="594" y="127" class="m" font-size="12.1" textLength="91" lengthAdjust="spacingAndGlyphs">Max Range, km</text>
<text x="770" y="127" class="m" font-size="12.1" textLength="21" lengthAdjust="spacingAndGlyphs">287</text>
<text x="594" y="141" class="m" font-size="12.1" textLength="77" lengthAdjust="spacingAndGlyphs">Max Amp, dB</text>
<text x="777" y="141" class="m" font-size="12.1" textLength="14" lengthAdjust="spacingAndGlyphs">60</text>
<text x="594" y="155" class="m" font-size="12.1" textLength="105" lengthAdjust="spacingAndGlyphs">Max SNR Amp, dB</text>
<text x="777" y="155" class="m" font-size="12.1" textLength="14" lengthAdjust="spacingAndGlyphs">37</text>
<text x="594" y="169" class="m" font-size="12.1" textLength="105" lengthAdjust="spacingAndGlyphs">Min SNR Amp, dB</text>
<text x="777" y="169" class="m" font-size="12.1" textLength="14" lengthAdjust="spacingAndGlyphs">11</text>
<text x="594" y="183" class="m" font-size="12.1" textLength="105" lengthAdjust="spacingAndGlyphs">Avg SNR Amp, dB</text>
<text x="777" y="183" class="m" font-size="12.1" textLength="14" lengthAdjust="spacingAndGlyphs">22</text>
<text x="594" y="197" class="m" font-size="12.1" textLength="112" lengthAdjust="spacingAndGlyphs">Max RMS Err, deg</text>
<text x="763" y="197" class="m" font-size="12.1" textLength="28" lengthAdjust="spacingAndGlyphs">12.0</text>
<text x="594" y="211" class="m" font-size="12.1" textLength="112" lengthAdjust="spacingAndGlyphs">Min RMS Err, deg</text>
<text x="770" y="211" class="m" font-size="12.1" textLength="21" lengthAdjust="spacingAndGlyphs">0.0</text>
<text x="594" y="225" class="m" font-size="12.1" textLength="112" lengthAdjust="spacingAndGlyphs">Avg RMS Err, deg</text>
<text x="770" y="225" class="m" font-size="12.1" textLength="21" lengthAdjust="spacingAndGlyphs">7.7</text>
<text x="594" y="239" class="m" font-size="12.1" textLength="105" lengthAdjust="spacingAndGlyphs">Doppler Res, Hz</text>
<text x="749" y="239" class="m" font-size="12.1" textLength="42" lengthAdjust="spacingAndGlyphs">0.0488</text>
<text x="594" y="253" class="m" font-size="12.1" textLength="56" lengthAdjust="spacingAndGlyphs">CIT, sec</text>
<text x="756" y="253" class="m" font-size="12.1" textLength="35" lengthAdjust="spacingAndGlyphs">20.48</text>
<text x="594" y="267" class="m" font-size="12.1" textLength="77" lengthAdjust="spacingAndGlyphs">Num of CITs</text>
<text x="784" y="267" class="m" font-size="12.1" textLength="7" lengthAdjust="spacingAndGlyphs">4</text>
<text x="594" y="281" class="m" font-size="12.1" textLength="84" lengthAdjust="spacingAndGlyphs">Polarization</text>
<text x="749" y="281" class="m" font-size="12.1" textLength="42" lengthAdjust="spacingAndGlyphs">O-mode</text>
<text x="594" y="295" class="m" font-size="12.1" textLength="161" lengthAdjust="spacingAndGlyphs">Center of Sources, deg:</text>
<text x="664" y="309" class="m" font-size="12.1" textLength="42" lengthAdjust="spacingAndGlyphs">Zenith</text>
<text x="770" y="309" class="m" font-size="12.1" textLength="21" lengthAdjust="spacingAndGlyphs">5.3</text>
<text x="664" y="323" class="m" font-size="12.1" textLength="49" lengthAdjust="spacingAndGlyphs">Azimuth</text>
<text x="770" y="323" class="m" font-size="12.1" textLength="21" lengthAdjust="spacingAndGlyphs">348</text>
<path d="M721.6,320.2 C722.2,317.6 724.6,316.9 726.0,319.5" fill="none" stroke="#1a1a1a" stroke-width="1.3"/><path d="M720.1,318.6 L722.9,319.2 L721.0,321.1 Z" fill="#1a1a1a" stroke="#1a1a1a" stroke-width="0.5" stroke-linejoin="round"/>
<text x="281.5" y="56.5" class="m" font-size="13.7" font-weight="bold" textLength="35" lengthAdjust="spacingAndGlyphs">North</text>
<text x="16" y="317.7" class="m" font-size="13.7" font-weight="bold" textLength="28" lengthAdjust="spacingAndGlyphs">West</text>
<text x="552.5" y="318" class="s" font-size="12.6" font-weight="bold" textLength="26.5" lengthAdjust="spacingAndGlyphs">East</text>
<text x="282" y="577.5" class="s" font-size="12.6" font-weight="bold" textLength="34.5" lengthAdjust="spacingAndGlyphs">South</text>
<text x="12" y="572" class="m" font-size="13.2" font-style="italic" textLength="7" lengthAdjust="spacingAndGlyphs">V</text>
<text x="19.4" y="576" class="m" font-size="10.2" textLength="5.4" lengthAdjust="spacingAndGlyphs">h</text>
<text x="33" y="572" class="m" font-size="13.2" textLength="7" lengthAdjust="spacingAndGlyphs">=</text>
<text x="47" y="572" class="m" font-size="13.2" font-style="italic" textLength="7" lengthAdjust="spacingAndGlyphs">9</text>
<text x="61" y="572" class="m" font-size="13.2" textLength="7" lengthAdjust="spacingAndGlyphs">±</text>
<text x="75" y="572" class="m" font-size="13.2" font-style="italic" textLength="14" lengthAdjust="spacingAndGlyphs">20</text>
<text x="96" y="572" class="m" font-size="13.2" textLength="21" lengthAdjust="spacingAndGlyphs">m/s</text>
<text x="12" y="592.5" class="m" font-size="13.2" font-style="italic" textLength="154" lengthAdjust="spacingAndGlyphs">Geographic coordinates</text>
<text x="473" y="572" class="m" font-size="13.2" font-style="italic" textLength="7" lengthAdjust="spacingAndGlyphs">V</text>
<text x="481.6" y="575.8" class="m" font-size="9.2" font-weight="bold" textLength="5.2" lengthAdjust="spacingAndGlyphs">z</text>
<text x="494" y="572" class="m" font-size="13.2" textLength="7" lengthAdjust="spacingAndGlyphs">=</text>
<text x="508" y="572" class="m" font-size="13.2" font-style="italic" textLength="14" lengthAdjust="spacingAndGlyphs">-4</text>
<text x="529" y="572" class="m" font-size="13.2" textLength="7" lengthAdjust="spacingAndGlyphs">±</text>
<text x="543" y="572" class="m" font-size="13.2" font-style="italic" textLength="7" lengthAdjust="spacingAndGlyphs">2</text>
<text x="557" y="572" class="m" font-size="13.2" textLength="21" lengthAdjust="spacingAndGlyphs">m/s</text>
<text x="419" y="592.5" class="m" font-size="13.2" font-style="italic" textLength="98" lengthAdjust="spacingAndGlyphs">Zenith: max 40</text>
<text x="516.6" y="592.2" class="m" font-size="11" font-style="italic">°</text>
<text x="534.5" y="592.5" class="m" font-size="13.2" font-style="italic" textLength="42" lengthAdjust="spacingAndGlyphs">step 5</text>
<text x="576.1" y="592.2" class="m" font-size="11" font-style="italic">°</text>
<text x="654.5" y="592.7" class="s" font-size="9.6" textLength="89" lengthAdjust="spacingAndGlyphs" stroke="#000" stroke-width="0.15">ShowSkymap v 1.0</text>
<text x="754" y="592.7" class="s" font-size="9.6" textLength="38.5" lengthAdjust="spacingAndGlyphs" stroke="#000" stroke-width="0.15">SD v 5.1</text>
<defs><linearGradient id="jet" x1="0" y1="0" x2="0" y2="1">
<stop offset="0.0000" stop-color="#0000c0"/>
<stop offset="0.0645" stop-color="#0000ff"/>
<stop offset="0.1774" stop-color="#0058ff"/>
<stop offset="0.2581" stop-color="#00a0ff"/>
<stop offset="0.3387" stop-color="#00e8ff"/>
<stop offset="0.4194" stop-color="#48ffc0"/>
<stop offset="0.5000" stop-color="#80ff80"/>
<stop offset="0.5806" stop-color="#c0ff40"/>
<stop offset="0.6613" stop-color="#fff000"/>
<stop offset="0.7419" stop-color="#ffa800"/>
<stop offset="0.8226" stop-color="#ff5800"/>
<stop offset="0.9194" stop-color="#ff0000"/>
<stop offset="1.0000" stop-color="#c00000"/>
</linearGradient></defs>
<rect x="593" y="341" width="15" height="242" fill="url(#jet)" shape-rendering="crispEdges"/>
<g shape-rendering="crispEdges" stroke="#000" stroke-width="1">
<line x1="608.5" y1="341" x2="608.5" y2="583"/>
<line x1="608" y1="578.5" x2="615" y2="578.5"/>
<line x1="608" y1="574.5" x2="612" y2="574.5"/>
<line x1="608" y1="570.5" x2="612" y2="570.5"/>
<line x1="608" y1="566.5" x2="612" y2="566.5"/>
<line x1="608" y1="562.5" x2="612" y2="562.5"/>
<line x1="608" y1="558.5" x2="615" y2="558.5"/>
<line x1="608" y1="554.5" x2="612" y2="554.5"/>
<line x1="608" y1="550.5" x2="612" y2="550.5"/>
<line x1="608" y1="547.5" x2="612" y2="547.5"/>
<line x1="608" y1="543.5" x2="612" y2="543.5"/>
<line x1="608" y1="539.5" x2="615" y2="539.5"/>
<line x1="608" y1="535.5" x2="612" y2="535.5"/>
<line x1="608" y1="531.5" x2="612" y2="531.5"/>
<line x1="608" y1="527.5" x2="612" y2="527.5"/>
<line x1="608" y1="523.5" x2="612" y2="523.5"/>
<line x1="608" y1="520.5" x2="615" y2="520.5"/>
<line x1="608" y1="516.5" x2="612" y2="516.5"/>
<line x1="608" y1="512.5" x2="612" y2="512.5"/>
<line x1="608" y1="508.5" x2="612" y2="508.5"/>
<line x1="608" y1="504.5" x2="612" y2="504.5"/>
<line x1="608" y1="500.5" x2="615" y2="500.5"/>
<line x1="608" y1="496.5" x2="612" y2="496.5"/>
<line x1="608" y1="492.5" x2="612" y2="492.5"/>
<line x1="608" y1="489.5" x2="612" y2="489.5"/>
<line x1="608" y1="485.5" x2="612" y2="485.5"/>
<line x1="608" y1="481.5" x2="615" y2="481.5"/>
<line x1="608" y1="477.5" x2="612" y2="477.5"/>
<line x1="608" y1="473.5" x2="612" y2="473.5"/>
<line x1="608" y1="469.5" x2="612" y2="469.5"/>
<line x1="608" y1="465.5" x2="612" y2="465.5"/>
<line x1="608" y1="461.5" x2="615" y2="461.5"/>
<line x1="608" y1="458.5" x2="612" y2="458.5"/>
<line x1="608" y1="454.5" x2="612" y2="454.5"/>
<line x1="608" y1="450.5" x2="612" y2="450.5"/>
<line x1="608" y1="446.5" x2="612" y2="446.5"/>
<line x1="608" y1="442.5" x2="615" y2="442.5"/>
<line x1="608" y1="438.5" x2="612" y2="438.5"/>
<line x1="608" y1="434.5" x2="612" y2="434.5"/>
<line x1="608" y1="430.5" x2="612" y2="430.5"/>
<line x1="608" y1="427.5" x2="612" y2="427.5"/>
<line x1="608" y1="423.5" x2="615" y2="423.5"/>
<line x1="608" y1="419.5" x2="612" y2="419.5"/>
<line x1="608" y1="415.5" x2="612" y2="415.5"/>
<line x1="608" y1="411.5" x2="612" y2="411.5"/>
<line x1="608" y1="407.5" x2="612" y2="407.5"/>
<line x1="608" y1="403.5" x2="615" y2="403.5"/>
<line x1="608" y1="400.5" x2="612" y2="400.5"/>
<line x1="608" y1="396.5" x2="612" y2="396.5"/>
<line x1="608" y1="392.5" x2="612" y2="392.5"/>
<line x1="608" y1="388.5" x2="612" y2="388.5"/>
<line x1="608" y1="384.5" x2="615" y2="384.5"/>
<line x1="608" y1="380.5" x2="612" y2="380.5"/>
<line x1="608" y1="376.5" x2="612" y2="376.5"/>
<line x1="608" y1="372.5" x2="612" y2="372.5"/>
<line x1="608" y1="369.5" x2="612" y2="369.5"/>
<line x1="608" y1="365.5" x2="615" y2="365.5"/>
<line x1="608" y1="361.5" x2="612" y2="361.5"/>
<line x1="608" y1="357.5" x2="612" y2="357.5"/>
<line x1="608" y1="353.5" x2="612" y2="353.5"/>
<line x1="608" y1="349.5" x2="612" y2="349.5"/>
<line x1="608" y1="345.5" x2="615" y2="345.5"/>
<line x1="608" y1="341.5" x2="615" y2="341.5"/>
<line x1="608" y1="582.5" x2="615" y2="582.5"/>
</g>
<text x="617.4" y="345.1" class="s" font-size="11.2" font-weight="bold" textLength="18.6" lengthAdjust="spacingAndGlyphs">3.1</text>
<text x="617.4" y="369.1" class="s" font-size="11.2" font-weight="bold" textLength="18.6" lengthAdjust="spacingAndGlyphs">2.5</text>
<text x="617.4" y="388.1" class="s" font-size="11.2" font-weight="bold" textLength="18.6" lengthAdjust="spacingAndGlyphs">2.0</text>
<text x="617.4" y="407.1" class="s" font-size="11.2" font-weight="bold" textLength="18.6" lengthAdjust="spacingAndGlyphs">1.5</text>
<text x="617.4" y="427.1" class="s" font-size="11.2" font-weight="bold" textLength="18.6" lengthAdjust="spacingAndGlyphs">1.0</text>
<text x="617.4" y="446.1" class="s" font-size="11.2" font-weight="bold" textLength="18.6" lengthAdjust="spacingAndGlyphs">0.5</text>
<text x="617.4" y="465.1" class="s" font-size="11.2" font-weight="bold" textLength="7.1" lengthAdjust="spacingAndGlyphs">0</text>
<text x="617.4" y="485.1" class="s" font-size="11.2" font-weight="bold" textLength="23" lengthAdjust="spacingAndGlyphs">-0.5</text>
<text x="617.4" y="504.1" class="s" font-size="11.2" font-weight="bold" textLength="23" lengthAdjust="spacingAndGlyphs">-1.0</text>
<text x="617.4" y="524.1" class="s" font-size="11.2" font-weight="bold" textLength="23" lengthAdjust="spacingAndGlyphs">-1.5</text>
<text x="617.4" y="543.1" class="s" font-size="11.2" font-weight="bold" textLength="23" lengthAdjust="spacingAndGlyphs">-2.0</text>
<text x="617.4" y="562.1" class="s" font-size="11.2" font-weight="bold" textLength="23" lengthAdjust="spacingAndGlyphs">-2.5</text>
<text x="617.4" y="586.1" class="s" font-size="11.2" font-weight="bold" textLength="23" lengthAdjust="spacingAndGlyphs">-3.1</text>
<g transform="translate(657,492) rotate(-90)">
<text x="0" y="0" class="s" font-size="10.8" font-weight="bold" textLength="53" lengthAdjust="spacingAndGlyphs">Doppler, Hz</text>
</g>
<path d="M669,402.4h8M673.4,398.6v7.6" stroke="#0000e6" stroke-width="1" fill="none"/>
<text x="682.3" y="406" class="s" font-size="10.6" font-weight="bold" fill="#0000e6" textLength="44.8" lengthAdjust="spacingAndGlyphs">Positive</text>
<circle cx="673" cy="522.5" r="2.6" fill="none" stroke="#e60000" stroke-width="1.1"/>
<text x="682.3" y="526" class="s" font-size="10.6" font-weight="bold" fill="#e60000" textLength="50.8" lengthAdjust="spacingAndGlyphs">Negative</text>
<path d="M40.2,13.4 C30,9.0 14.5,12.3 11.1,27 C9.7,33.5 12,40.2 15.3,43.8 C13.6,37.5 13.9,30.5 17.4,24.2 C21.5,17.4 29,13.9 40.2,13.4 Z" fill="#3b9bc8"/>
<text x="48.7" y="30.4" class="r" font-size="10.7" fill="#2e1a28" textLength="29.8" lengthAdjust="spacingAndGlyphs" stroke="#2e1a28" stroke-width="0.25">Lowell</text>
<text x="19.3" y="42.6" class="s" font-size="10.5" fill="#8e2c62" textLength="59.8" lengthAdjust="spacingAndGlyphs" stroke="#8e2c62" stroke-width="0.25">DIGISONDE</text>
</svg></body></html>
